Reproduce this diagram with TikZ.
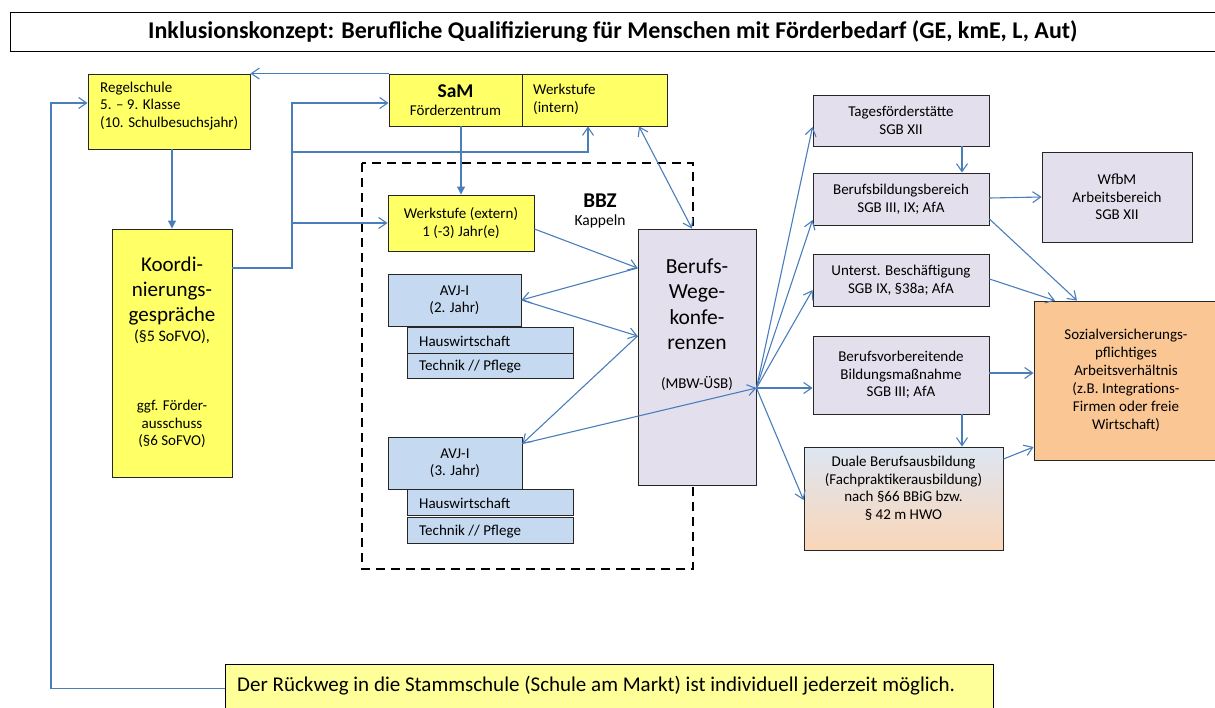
\documentclass[tikz,border=0pt]{standalone}
\usepackage{fontspec}
\setmainfont{Carlito}
\usepackage{xcolor}
\usetikzlibrary{arrows.meta}
\definecolor{linkblue}{RGB}{74,126,187}
\definecolor{ylwfill}{RGB}{255,255,102}
\definecolor{lavfill}{RGB}{228,223,236}
\definecolor{avjfill}{RGB}{197,217,241}
\definecolor{sozfill}{RGB}{250,198,148}
\definecolor{notefill}{RGB}{255,255,153}
\definecolor{dualtop}{RGB}{221,230,242}
\definecolor{dualbot}{RGB}{250,214,184}

\tikzset{
  box/.style={draw=black!85, line width=0.9pt, inner sep=0pt, align=center},
  ylw/.style={box, fill=ylwfill},
  lav/.style={box, fill=lavfill},
  avj/.style={box, fill=avjfill},
  plain/.style={inner sep=0pt, align=center},
  txt/.style={inner sep=0pt, align=left, anchor=west},
  link/.style={linkblue, line width=1.1pt, -{Straight Barb[length=8pt,width=11pt]}},
  linkboth/.style={linkblue, line width=1.1pt, {Straight Barb[length=8pt,width=11pt]}-{Straight Barb[length=8pt,width=11pt]}},
  tri/.style={linkblue, line width=1.1pt, -{Triangle[length=8pt,width=8pt]}}
}

\begin{document}
\begin{tikzpicture}[x=1pt, y=-1pt, font=\fontsize{15}{17.5}\selectfont]
  \useasboundingbox (0,0) rectangle (1215,707);
  % Title
  \node[draw, line width=0.8pt, minimum width=1210, minimum height=39, anchor=north west,
        font=\fontsize{24}{26}\selectfont\bfseries] (titel) at (10,12)
        {\hspace*{-5pt}Inklusionskonzept: Berufliche Qualifizierung für Menschen mit Förderbedarf (GE, kmE, L, Aut)};
  % BBZ frame
  \draw[black, line width=2.2pt, dash pattern=on 9pt off 6pt] (362,163) rectangle (693,569);
  \node[plain] (bbz) at (600,211) {{\bfseries\fontsize{21}{22}\selectfont BBZ}\\{\fontsize{15.5}{17}\selectfont Kappeln}};

  % Left column
  \node[ylw, minimum width=162, minimum height=75] (regel) at (169,111.5) {};
  \node[txt] (regel-t) at (100,106) {Regelschule\\5. -- 9. Klasse\\(10. Schulbesuchsjahr)};
  \node[ylw, minimum width=120, minimum height=248] (koord) at (172,353) {};
  \node[plain, font=\fontsize{21}{25}\selectfont] (koord-t) at (172,291) {Koordi-\\nierungs-\\gespräche};
  \node[plain, font=\fontsize{16}{18}\selectfont] (koord-a) at (172,337) {(§5 SoFVO),};
  \node[plain] (koord-b) at (172,424) {ggf. Förder-\\ausschuss\\(§6 SoFVO)};

  % SaM and BBZ
  \node[ylw, minimum width=133, minimum height=52] (sam) at (455.5,100) {{\bfseries\fontsize{19.5}{20}\selectfont SaM}\\Förderzentrum};
  \node[ylw, minimum width=145, minimum height=52] (wsint) at (594.5,100) {};
  \node[txt] (wsint-t) at (533,99.5) {Werkstufe\\(intern)};
  \node[ylw, minimum width=146, minimum height=56] (wsext) at (461,223) {Werkstufe (extern)\\1 (-3) Jahr(e)};
  \node[avj, minimum width=133, minimum height=52] (avj2) at (454.5,300) {AVJ-I\\(2. Jahr)};
  \node[avj, minimum width=166, minimum height=26] (hw2) at (490,340) {};
  \node[txt] (hw2-t) at (419,341) {Hauswirtschaft};
  \node[avj, minimum width=166, minimum height=25] (tp2) at (490,365.5) {};
  \node[txt] (tp2-t) at (419,367) {Technik // Pflege};
  \node[avj, minimum width=134, minimum height=52] (avj3) at (455,463) {AVJ-I\\(3. Jahr)};
  \node[avj, minimum width=166, minimum height=26] (hw3) at (490,502) {};
  \node[txt] (hw3-t) at (419,503) {Hauswirtschaft};
  \node[avj, minimum width=166, minimum height=26] (tp3) at (490,530) {};
  \node[txt] (tp3-t) at (419,532) {Technik // Pflege};
  \node[lav, minimum width=118, minimum height=256] (bwk) at (697,357) {};
  \node[plain, font=\fontsize{21.5}{25.5}\selectfont] (bwk-t) at (697,304) {Berufs-\\Wege-\\konfe-\\renzen};
  \node[plain] (bwk-m) at (697,384) {(MBW-ÜSB)};

  % Right column
  \node[lav, minimum width=176, minimum height=51] (tages) at (901,120.5) {Tagesförderstätte\\SGB XII};
  \node[lav, minimum width=176, minimum height=52] (bbb) at (901,199) {Berufsbildungsbereich\\SGB III, IX; AfA};
  \node[lav, minimum width=176, minimum height=52] (unt) at (901,280) {Unterst. Beschäftigung\\SGB IX, §38a; AfA};
  \node[lav, minimum width=176, minimum height=78] (bvb) at (901,375) {Berufsvorbereitende\\Bildungsmaßnahme\\SGB III; AfA};
  \node[box, top color=dualtop, bottom color=dualbot, minimum width=199, minimum height=103] (dual) at (903.5,498.5) {};
  \node[plain] (dual-t) at (903.5,488) {Duale Berufsausbildung\\(Fachpraktikerausbildung)\\nach §66 BBiG bzw.\\§ 42 m HWO};
  \node[lav, minimum width=150, minimum height=90] (wfbm) at (1117,197) {WfbM\\Arbeitsbereich\\SGB XII};
  \node[box, fill=sozfill, minimum width=184, minimum height=159, font=\fontsize{15}{18}\selectfont] (soz) at (1126,380.5)
       {Sozialversicherungs-\\pflichtiges\\Arbeitsverhältnis\\(z.B. Integrations-\\Firmen oder freie\\Wirtschaft)};

  % Note
  \node[draw, line width=0.9pt, fill=notefill, minimum width=768, minimum height=48, anchor=north west] (note) at (225,664) {};
  \node[txt, font=\fontsize{21}{24}\selectfont] (note-t) at (237,686) {Der Rückweg in die Stammschule (Schule am Markt) ist individuell jederzeit möglich.};

  % Define coordinates
  \path (51,103) coordinate (ruck)
    (292,103) coordinate (kj)
    (292,152) coordinate (kw)
    ([yshift=-31pt]bwk.east) coordinate (fan);

  % Connectors
  \draw[link] (note.west) -| (ruck) -- ([yshift=8.5pt]regel.west);
  \draw[tri] (koord.north |- regel.south) -- (koord.north);
  \draw[link] (sam.north west) -- (regel.north east);
  \draw[link] ([yshift=85pt]koord.east) -| (kj) -- ([yshift=-3pt]sam.west);
  \draw[link] (kw) -| ([xshift=-6.5pt]wsint.south);
  \draw[link] (kw |- wsext.west) -- (wsext.west);
  \draw[tri] (wsext.north |- sam.south) -- (wsext.north);
  \draw[linkboth] ([xshift=44.5pt]wsint.south) -- ([xshift=-5pt]bwk.north);
  \draw[link] ([yshift=-6pt]wsext.east) -- ([yshift=89pt]bwk.west);
  \draw[link] ([yshift=89pt]bwk.west) -- (avj2.east);
  \draw[link] (avj2.east) -- ([yshift=21pt]bwk.west);
  \draw[link] ([yshift=21pt]bwk.west) -- ([yshift=-7pt]avj3.north east);
  \draw[link] ([yshift=-7pt]avj3.north east) -- (fan);
  \foreach \to/\dy in {tages/-6.5, bbb/-21, unt/-10, bvb/-13, dual/-1.5}
    \draw[link] (fan) -- ([yshift=\dy pt]\to.west);
  \draw[link] ([xshift=61pt]tages.south) -- ([xshift=61pt]bbb.north);
  \draw[link] ([yshift=1pt]bbb.east) -- (wfbm.west);
  \draw[link] ([yshift=-20pt]bbb.east) -- ([xshift=-49pt]soz.north);
  \draw[link] ([yshift=1pt]unt.east) -- ([xshift=-71pt]soz.north);
  \draw[link] ([yshift=2pt]bvb.east) -- ([yshift=7.5pt]soz.west);
  \draw[link] ([xshift=61pt]bvb.south) -- ([xshift=58.5pt]dual.north);
  \draw[link] ([yshift=39.5pt]dual.east) -- ([yshift=-66.5pt]soz.west);
\end{tikzpicture}
\end{document}
